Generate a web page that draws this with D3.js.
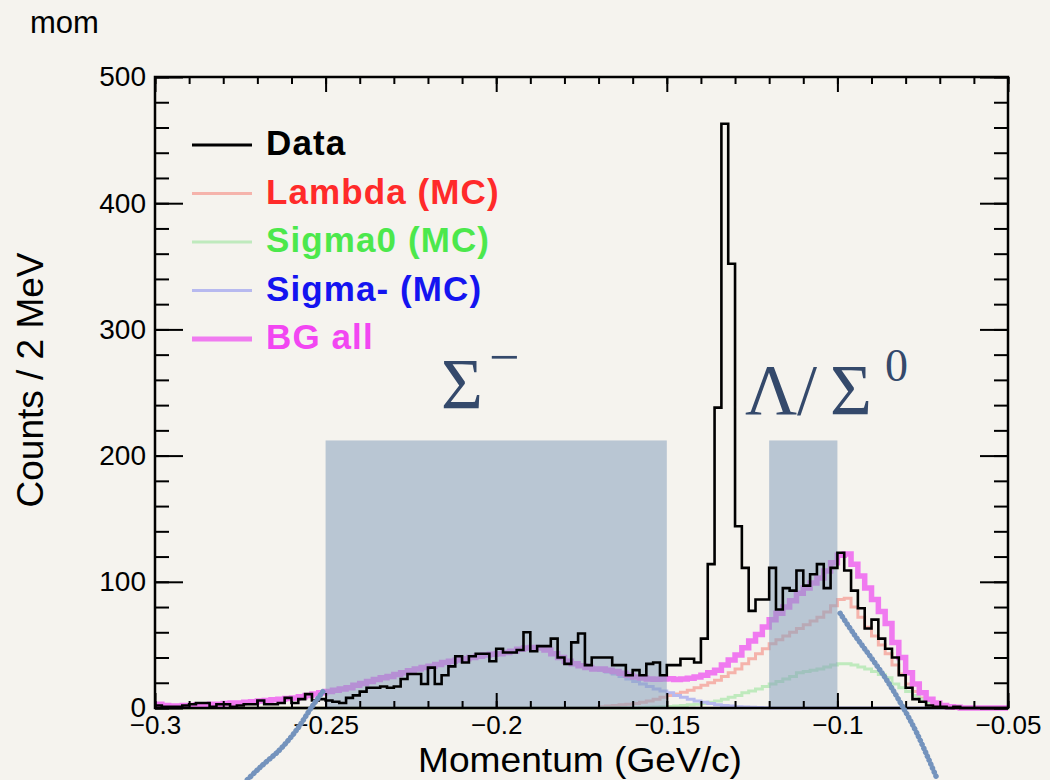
<!DOCTYPE html>
<html><head><meta charset="utf-8">
<script src="https://cdn.jsdelivr.net/npm/d3@7"></script>
<style>
body{margin:0;background:#f5f3ee;}
svg{display:block;font-family:"Liberation Sans",Arial,Helvetica,sans-serif;}
</style>
</head><body>
<svg id="chart" width="1050" height="780"></svg>
<script>
// ---------------- data ----------------
const histRange = [-0.3, -0.05];
const binWidth = 0.002; // 2 MeV bins

const dataCounts = [
  2,1,1,1,2,3,4,4,1,3,
  3,1,2,3,3,6,3,3,4,8,
  4,7,11,6,7,6,5,4,8,10,
  13,16,16,17,16,17,23,27,27,19,
  32,19,26,33,41,36,41,43,43,37,
  47,44,44,46,60,45,49,49,55,40,
  35,52,59,34,40,40,40,34,34,26,
  30,26,35,36,26,34,34,39,39,36,
  55,114,238,463,352,144,111,77,86,86,
  111,78,95,93,109,97,106,114,95,111,
  123,109,93,79,63,70,55,47,40,26,
  16,7,5,2,1,1,0,1,0,0,
  0,0,0,0,0
];

const lambdaMC = [
  0,0,0,0,0,0,0,0,0,0,
  0,0,0,0,0,0,0,0,0,0,
  0,0,0,0,0,0,0,0,0,0,
  0,0,0,0,0,0,0,0,0,0,
  0,0,0,0,0,0,0,0,0,0,
  0,0,0,0,0,0,0,0,0,0,
  0,0,0,0,0,1,1.5,2,2.5,3,
  3.5,4.5,5.5,7,8.5,10,11,12.5,14,16,
  18,20,22,25,28,31,35,39,43,47,
  51,54,57,60,63,66,69,72,76,81,
  86,87,80,72,64,57,50,43,34,27,
  19,13,8,5,3,1.5,0.5,0,0,0,
  0,0,0,0,0
];

const sigma0MC = [
  0,0,0,0,0,0,0,0,0,0,
  0,0,0,0,0,0,0,0,0,0,
  0,0,0,0,0,0,0,0,0,0,
  0,0,0,0,0,0,0,0,0,0,
  0,0,0,0,0,0,0,0,0,0,
  0,0,0,0,0,0,0,0,0,0,
  0,0,0,0,0,0,0,0,0,0,
  0,0.3,0.5,0.8,1,1.2,1.5,2,2.5,3,
  3.5,4.5,5.5,7,8.5,10,12,13.5,15,17,
  19,21,23,25,28,29,30,31,32.5,34,
  35,35,34,32.5,31,29,26.5,24,19,16,
  13,10,7,4.5,3,2,1,0.5,0,0,
  0,0,0,0,0
];

const sigmaMinusMC = [
  3,2,1.5,1.5,2,2,2.5,2.5,3,3,
  3.5,4,4,4.5,5,5.5,6,6.5,7,7.5,
  8,9,10,11,12,13,14,15,16,18,
  19.5,21,22.5,24,25,26.5,28,29.5,31,32,
  33,34.5,36,37,38,39,40,41,42,42.5,
  43,44,45,46.5,47.5,48,47.5,46,43,40,
  37,35,33.5,32,31,30,28.5,27,25,23,
  21,19,17,15,13.5,12,10,8.5,7,5.5,
  4.5,3.5,2.5,2,1.5,1,0.7,0.5,0.3,0.2,
  0,0,0,0,0,0,0,0,0,0,
  0,0,0,0,0,0,0,0,0,0,
  0,0,0,0,0,0,0,0,0,0,
  0,0,0,0,0
];

const bgAll = [
  3,2,1.5,1.5,2,2,2.5,2.5,3,3,
  3.5,4,4,4.5,5,5.5,6,6.5,7,7.5,
  8,9,10,11,12,13,14,15,16,18,
  19.5,21,22.5,24,25,26.5,28,29.5,31,32,
  33,34.5,36,37,38,39,40,41,42,42.5,
  43,44,45,46.5,47.5,48,47.5,46,43,40,
  37,35,33.5,32,31,31,30,29,27.5,26,
  24.5,23.8,23,22.8,23,23.2,22.5,23,23.5,24.5,
  26,28,30,34,38,42,47.7,53,58.3,64.2,
  70,75,80,85,91,95,99,103,108.5,115,
  121,122,114,104.5,95,86,76.5,67,52,40,
  28,19,12,7,4,2,1,0.5,0,0,
  0,0,0,0,0
];

const xMajorTicks = [-0.3, -0.25, -0.2, -0.15, -0.1, -0.05];
const xTickLabels = ["\u22120.3", "\u22120.25", "\u22120.2", "\u22120.15", "\u22120.1", "\u22120.05"];
const yMajorTicks = [0, 100, 200, 300, 400, 500];
const yTickLabels = ["0", "100", "200", "300", "400", "500"];

const legendLabels = ["Data", "Lambda (MC)", "Sigma0 (MC)", "Sigma- (MC)", "BG all"];

const selectionWindows = [[-0.25, -0.15], [-0.12, -0.1]];
const windowTop = 212;

// dotted overlays (momentum, counts)
const overlayLeft = [[-0.2508, 13], [-0.2540, 1], [-0.2584, -17], [-0.2634, -33], [-0.2692, -47], [-0.2730, -57]];
const overlayRight = [[-0.0992, 75], [-0.0950, 58], [-0.0904, 41], [-0.0860, 24], [-0.0817, 5], [-0.0767, -20], [-0.0708, -56]];

// ---------------- drawing ----------------
const svg = d3.select("#chart");
const W = 1050, H = 780;
const plot = {left: 155, right: 1008, top: 77, bottom: 708};

svg.append("rect").attr("width", W).attr("height", H).attr("fill", "#f5f3ee");

const x = d3.scaleLinear().domain(histRange).range([plot.left, plot.right]);
const y = d3.scaleLinear().domain([0, 500]).range([plot.bottom, plot.top]);

function stepPoints(arr) {
  const pts = arr.map((v, i) => [histRange[0] + i * binWidth, v]);
  pts.push([histRange[0] + arr.length * binWidth, arr[arr.length - 1]]);
  return pts;
}
const stepLine = d3.line().x(d => x(d[0])).y(d => y(d[1])).curve(d3.curveStepAfter);

const mcSeries = [
  {vals: lambdaMC, color: "#f5b3ab", w: 3},
  {vals: sigma0MC, color: "#bfeabd", w: 3},
  {vals: sigmaMinusMC, color: "#b7b9ef", w: 3},
  {vals: bgAll, color: "#f07af0", w: 5.5}
];
const gMC = svg.append("g");
mcSeries.forEach(s => {
  gMC.append("path").attr("d", stepLine(stepPoints(s.vals)))
    .attr("fill", "none").attr("stroke", s.color).attr("stroke-width", s.w)
    .attr("stroke-linejoin", "miter");
});

// selection windows
svg.append("g").selectAll("rect").data(selectionWindows).join("rect")
  .attr("x", d => x(d[0])).attr("width", d => x(d[1]) - x(d[0]))
  .attr("y", y(windowTop)).attr("height", y(0) - y(windowTop))
  .attr("fill", "#86a0bd").attr("fill-opacity", 0.55);

// data histogram
svg.append("path").attr("d", stepLine(stepPoints(dataCounts)))
  .attr("fill", "none").attr("stroke", "#000").attr("stroke-width", 2.6)
  .attr("stroke-linejoin", "miter");

// frame
svg.append("rect").attr("x", plot.left).attr("y", plot.top)
  .attr("width", plot.right - plot.left).attr("height", plot.bottom - plot.top)
  .attr("fill", "none").attr("stroke", "#000").attr("stroke-width", 2.5);

// axes
const xMinor = d3.range(0, 26).map(i => -0.3 + i * 0.01);
const yMinor = d3.range(0, 26).map(i => i * 20);

function styleAxis(g) {
  g.select(".domain").remove();
  g.selectAll(".tick line").attr("stroke", "#000").attr("stroke-width", 2);
}

svg.append("g").attr("transform", `translate(0,${plot.bottom})`)
  .call(d3.axisBottom(x).tickValues(xMinor).tickSizeInner(-7).tickSizeOuter(0).tickFormat(""))
  .call(styleAxis);
svg.append("g").attr("transform", `translate(0,${plot.top})`)
  .call(d3.axisTop(x).tickValues(xMinor).tickSizeInner(-7).tickSizeOuter(0).tickFormat(""))
  .call(styleAxis);
svg.append("g").attr("transform", `translate(0,${plot.top})`)
  .call(d3.axisTop(x).tickValues(xMajorTicks).tickSizeInner(-15).tickSizeOuter(0).tickFormat(""))
  .call(styleAxis);
const xAx = svg.append("g").attr("transform", `translate(0,${plot.bottom})`)
  .call(d3.axisBottom(x).tickValues(xMajorTicks).tickSizeInner(-15).tickSizeOuter(0).tickPadding(8)
    .tickFormat((d, i) => xTickLabels[i]))
  .call(styleAxis);
xAx.selectAll("text").attr("font-size", 26).attr("fill", "#000")
  .attr("font-family", "'Liberation Sans', Arial, sans-serif");

svg.append("g").attr("transform", `translate(${plot.left},0)`)
  .call(d3.axisLeft(y).tickValues(yMinor).tickSizeInner(-14).tickSizeOuter(0).tickFormat(""))
  .call(styleAxis);
svg.append("g").attr("transform", `translate(${plot.right},0)`)
  .call(d3.axisRight(y).tickValues(yMinor).tickSizeInner(-14).tickSizeOuter(0).tickFormat(""))
  .call(styleAxis);
svg.append("g").attr("transform", `translate(${plot.right},0)`)
  .call(d3.axisRight(y).tickValues(yMajorTicks).tickSizeInner(-28).tickSizeOuter(0).tickFormat(""))
  .call(styleAxis);
const yAx = svg.append("g").attr("transform", `translate(${plot.left},0)`)
  .call(d3.axisLeft(y).tickValues(yMajorTicks).tickSizeInner(-28).tickSizeOuter(0).tickPadding(9)
    .tickFormat((d, i) => yTickLabels[i]))
  .call(styleAxis);
yAx.selectAll("text").attr("font-size", 28).attr("fill", "#000")
  .attr("font-family", "'Liberation Sans', Arial, sans-serif");

// titles
svg.append("text").attr("x", 30).attr("y", 33).attr("font-size", 31).text("mom");
svg.append("text").attr("x", 580).attr("y", 772).attr("text-anchor", "middle")
  .attr("font-size", 35).attr("textLength", 324).attr("lengthAdjust", "spacingAndGlyphs")
  .text("Momentum (GeV/c)");
svg.append("text").attr("transform", "translate(43,380) rotate(-90)").attr("text-anchor", "middle")
  .attr("font-size", 37).text("Counts / 2 MeV");

// legend
const legendColors = ["#000000", "#ff2a2a", "#4ce84c", "#1414f0", "#f246f2"];
const legendLineColors = ["#000000", "#f5b3ab", "#bfeabd", "#b7b9ef", "#f07af0"];
const legendLineWidths = [3, 3, 3, 3, 5];
const lg = svg.append("g");
legendLabels.forEach((lab, i) => {
  const by = 155 + i * 48.5;
  lg.append("line").attr("x1", 192).attr("x2", 252).attr("y1", by - 10).attr("y2", by - 10)
    .attr("stroke", legendLineColors[i]).attr("stroke-width", legendLineWidths[i]);
  lg.append("text").attr("x", 266).attr("y", by).attr("font-size", 35).attr("font-weight", "bold")
    .attr("letter-spacing", 1.1).attr("fill", legendColors[i]).text(lab);
});

// annotations
const annColor = "#34496b";
const serif = "'Liberation Serif', 'DejaVu Serif', serif";
const ann = svg.append("g").attr("fill", annColor).attr("font-family", serif);
ann.append("text").attr("x", 441).attr("y", 408).attr("font-size", 72).text("\u03A3");
ann.append("text").attr("x", 489).attr("y", 375).attr("font-size", 54).text("\u2212");
ann.append("text").attr("x", 745).attr("y", 414).attr("font-size", 72).text("\u039B");
ann.append("text").attr("x", 797).attr("y", 414).attr("font-size", 72).text("/");
ann.append("text").attr("x", 830).attr("y", 414).attr("font-size", 72).text("\u03A3");
ann.append("text").attr("x", 885).attr("y", 381).attr("font-size", 46).text("0");

// dotted overlays
const curveLine = d3.line().x(d => x(d[0])).y(d => y(d[1])).curve(d3.curveCatmullRom);
[overlayLeft, overlayRight].forEach(pts => {
  svg.append("path").attr("d", curveLine(pts)).attr("fill", "none")
    .attr("stroke", "#7493bd").attr("stroke-width", 5.5)
    .attr("stroke-linecap", "round").attr("stroke-dasharray", "0.1,4.2");
});
</script>
</body></html>
